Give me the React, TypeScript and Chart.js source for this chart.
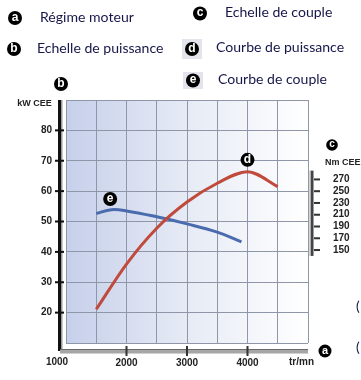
import React, { useEffect, useRef } from 'react';
import { Chart, registerables } from 'chart.js';

Chart.register(...registerables);

// Engine speed (tr/mn) for the power curve
const powerRpm = [1500, 2000, 2500, 3000, 3500, 4000, 4500];
// Power (kW CEE)
const powerKw = [21.1, 36.0, 47.8, 56.4, 62.6, 66.4, 61.5];
// Engine speed (tr/mn) for the torque curve
const torqueRpm = [1500, 1750, 2000, 2500, 3000, 3500, 3900];
// Torque (Nm CEE)
const torqueNm = [212, 218.5, 216.5, 206.5, 194.5, 180.5, 164];
// Tick labels
const powerTicks = [20, 30, 40, 50, 60, 70, 80];
const torqueTicks = [150, 170, 190, 210, 230, 250, 270];
const rpmTicks = [2000, 3000, 4000];
// Header legend
const legendLetters = ['a', 'b', 'c', 'd', 'e'];
const legendTexts = [
  'Régime moteur',
  'Echelle de puissance',
  'Echelle de couple',
  'Courbe de puissance',
  'Courbe de couple',
];

const NAVY = '#16164a';
const AXIS_FONT = '"Liberation Sans", Arial, sans-serif';
const HEAD_FONT = 'Lato, "Open Sans", sans-serif';

function badge(ctx: CanvasRenderingContext2D, x: number, y: number, r: number, letter: string) {
  ctx.save();
  ctx.beginPath();
  ctx.arc(x, y, r, 0, Math.PI * 2);
  ctx.fillStyle = '#000';
  ctx.fill();
  ctx.fillStyle = '#fff';
  ctx.font = `bold ${Math.round(r * 1.75)}px ${AXIS_FONT}`;
  ctx.textAlign = 'center';
  ctx.textBaseline = 'middle';
  ctx.fillText(letter, x, y - 0.5);
  ctx.restore();
}

const decorPlugin = {
  id: 'decor',
  beforeDraw(chart: any) {
    const { ctx, chartArea: a } = chart;
    ctx.save();
    const g = ctx.createLinearGradient(a.left, 0, a.right, 0);
    g.addColorStop(0, '#c6d0ea');
    g.addColorStop(0.3, '#dae0f1');
    g.addColorStop(0.55, '#e9edf6');
    g.addColorStop(0.8, '#f5f7fb');
    g.addColorStop(1, '#ffffff');
    ctx.fillStyle = g;
    ctx.fillRect(a.left, a.top, a.right - a.left, a.bottom - a.top);
    ctx.restore();
  },
  afterDraw(chart: any) {
    const { ctx, chartArea: a, scales } = chart;
    const xs = scales.x;
    const ys = scales.y;
    const y2 = scales.y2;
    ctx.save();

    // ---- Header legend ----
    ctx.fillStyle = '#e4e4ec';
    ctx.fillRect(182, 39, 20, 20);
    ctx.fillRect(183, 72, 20, 17);
    const headPos = [
      { bx: 15, by: 18, tx: 40, ty: 17 },
      { bx: 14, by: 49, tx: 37, ty: 48.5 },
      { bx: 200, by: 13.5, tx: 225, ty: 12 },
      { bx: 192, by: 49, tx: 216, ty: 47.5 },
      { bx: 193, by: 80.5, tx: 218, ty: 79 },
    ];
    ctx.font = `14px ${HEAD_FONT}`;
    const fit = 126.6 / ctx.measureText(legendTexts[1]).width;
    const headSize = 14 * fit;
    headPos.forEach((p, i) => {
      badge(ctx, p.bx, p.by, 7, legendLetters[i]);
      ctx.fillStyle = NAVY;
      ctx.font = `${headSize}px ${HEAD_FONT}`;
      ctx.textAlign = 'left';
      ctx.textBaseline = 'middle';
      ctx.fillText(legendTexts[i], p.tx, p.ty);
    });
    // cut-off marks at right edge
    ctx.fillStyle = NAVY;
    ctx.font = `14px ${HEAD_FONT}`;
    ctx.fillText('(', 356, 306);
    ctx.fillText('(', 356, 347);

    // ---- Left power axis ----
    ctx.fillStyle = '#111';
    ctx.fillRect(58, a.top, 3, a.bottom + 8 - a.top);
    ctx.fillStyle = '#9a9a9a';
    ctx.fillRect(61, a.top, 1.5, a.bottom + 6 - a.top);
    powerTicks.forEach((v) => {
      const py = ys.getPixelForValue(v);
      ctx.fillStyle = '#111';
      ctx.fillRect(55, py - 1, 9, 2);
    });
    badge(ctx, 61, 84, 7, 'b');
    ctx.fillStyle = '#222';
    ctx.font = `bold 9px ${AXIS_FONT}`;
    ctx.textAlign = 'center';
    ctx.textBaseline = 'middle';
    ctx.fillText('kW CEE', 34.5, 103.5);

    // ---- Bottom rpm axis ----
    const barY = a.bottom + 6;
    const xEnd = xs.getPixelForValue(5000);
    ctx.fillStyle = '#a6a6a6';
    ctx.fillRect(60, barY, xEnd - 60, 4);
    ctx.fillStyle = '#6a6a6a';
    ctx.fillRect(60, barY, xEnd - 60, 1);
    ctx.fillStyle = '#d0d0d0';
    ctx.fillRect(60, barY + 4, xEnd - 60, 1);
    rpmTicks.forEach((v) => {
      const px = xs.getPixelForValue(v);
      ctx.fillStyle = '#333';
      ctx.fillRect(px - 1, barY - 3, 2, 10);
    });
    ctx.fillStyle = '#222';
    ctx.font = `bold 10px ${AXIS_FONT}`;
    ctx.textAlign = 'center';
    ctx.textBaseline = 'middle';
    ctx.fillText('1000', xs.getPixelForValue(1000) - 9, 362.5);
    ctx.fillText('tr/mn', 301.5, 362.5);
    badge(ctx, 325, 351, 6.5, 'a');

    // ---- Right torque axis ----
    const t0 = y2.getPixelForValue(285);
    const t1 = y2.getPixelForValue(140);
    ctx.fillStyle = '#b0b0b0';
    ctx.fillRect(309.5, t0, 1.5, t1 - t0);
    ctx.fillStyle = '#444';
    ctx.fillRect(311, t0, 2.5, t1 - t0);
    torqueTicks.forEach((v) => {
      const py = y2.getPixelForValue(v);
      ctx.fillStyle = '#333';
      ctx.fillRect(314, py - 1, 6, 2);
    });
    badge(ctx, 332, 145, 5.8, 'c');
    ctx.fillStyle = '#222';
    ctx.font = `bold 9px ${AXIS_FONT}`;
    ctx.textAlign = 'left';
    ctx.textBaseline = 'middle';
    ctx.fillText('Nm CEE', 325, 163);

    // ---- Curve badges ----
    badge(ctx, xs.getPixelForValue(4000), ys.getPixelForValue(70.3), 7, 'd');
    badge(ctx, xs.getPixelForValue(1730), ys.getPixelForValue(57.4), 7, 'e');

    ctx.restore();
  },
};

export default function App() {
  const ref = useRef<HTMLCanvasElement | null>(null);

  useEffect(() => {
    if (!ref.current) return;
    const tickFont = { family: AXIS_FONT, size: 10, weight: 'bold' as const };
    const chart = new Chart(ref.current, {
      type: 'line',
      data: {
        datasets: [
          {
            label: 'Courbe de puissance',
            data: powerRpm.map((x, i) => ({ x, y: powerKw[i] })),
            yAxisID: 'y',
            borderColor: '#c04a3b',
            borderWidth: 3,
            pointRadius: 0,
            cubicInterpolationMode: 'monotone',
            fill: false,
          },
          {
            label: 'Courbe de couple',
            data: torqueRpm.map((x, i) => ({ x, y: torqueNm[i] })),
            yAxisID: 'y2',
            borderColor: '#4a6cae',
            borderWidth: 3,
            pointRadius: 0,
            tension: 0.4,
            fill: false,
          },
        ],
      },
      options: {
        animation: false,
        responsive: true,
        maintainAspectRatio: false,
        layout: { padding: { top: 100, left: 0, right: 0, bottom: 0 } },
        plugins: { legend: { display: false }, tooltip: { enabled: false } },
        scales: {
          x: {
            type: 'linear',
            min: 1000,
            max: 5000,
            afterFit: (s: any) => {
              s.height = 37;
            },
            ticks: {
              stepSize: 500,
              autoSkip: false,
              maxRotation: 0,
              padding: 14,
              color: '#222',
              font: tickFont,
              callback: (v: any) => (rpmTicks.includes(Number(v)) ? String(v) : ''),
            },
            grid: { color: '#8f96a8', lineWidth: 1, drawTicks: false },
            border: { display: false },
          },
          y: {
            type: 'linear',
            position: 'left',
            min: 10,
            max: 90,
            afterFit: (s: any) => {
              s.width = 66;
            },
            ticks: {
              stepSize: 10,
              padding: 14,
              color: '#222',
              font: tickFont,
              callback: (v: any) => (powerTicks.includes(Number(v)) ? String(v) : ''),
            },
            grid: { color: '#8f96a8', lineWidth: 1, drawTicks: false },
            border: { display: false },
          },
          y2: {
            type: 'linear',
            position: 'right',
            min: -8,
            max: 405,
            afterFit: (s: any) => {
              s.width = 53;
            },
            afterBuildTicks: (s: any) => {
              s.ticks = torqueTicks.map((v) => ({ value: v }));
            },
            ticks: {
              padding: 17,
              color: '#222',
              font: tickFont,
            },
            grid: { display: false },
            border: { display: false },
          },
        },
      },
      plugins: [decorPlugin],
    });
    return () => chart.destroy();
  }, []);

  return (
    <div style={{ position: 'absolute', left: 0, top: 0, width: 361, height: 380, background: '#fff' }}>
      <canvas ref={ref} />
    </div>
  );
}
